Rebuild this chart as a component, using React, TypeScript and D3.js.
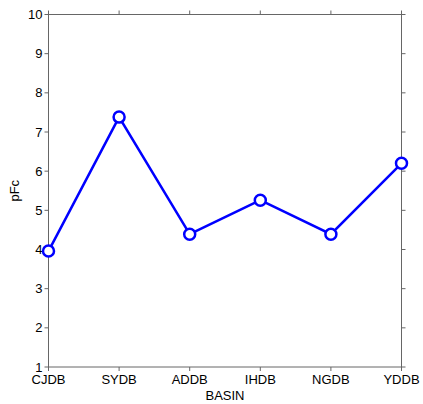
import React from "react";
import * as d3 from "d3";

const categories = ["CJDB", "SYDB", "ADDB", "IHDB", "NGDB", "YDDB"];
const values = [3.96, 7.38, 4.39, 5.26, 4.39, 6.2];
const yTicks = [1, 2, 3, 4, 5, 6, 7, 8, 9, 10];

const W = 423, H = 404;
const m = { left: 48.5, right: 21.5, top: 14.5, bottom: 37 };

export default function App() {
  const x = d3.scalePoint<string>().domain(categories).range([m.left, W - m.right]);
  const y = d3.scaleLinear().domain([1, 10]).range([H - m.bottom, m.top]);
  const line = d3.line<number>().x((_, i) => x(categories[i])!).y((d) => y(d));
  const axisColor = "#666";
  const font = "Liberation Sans, Arial, sans-serif";
  const x0 = m.left, x1 = W - m.right, y0 = H - m.bottom, y1 = m.top;
  return (
    <svg width={W} height={H} style={{ position: "absolute", left: 0, top: 0 }} fontFamily={font}>
      <rect width={W} height={H} fill="#fff" />
      <rect x={x0} y={y1} width={x1 - x0} height={y0 - y1} fill="none" stroke={axisColor} strokeWidth={1} />
      {yTicks.map((t) => (
        <g key={t}>
          <line x1={x0} x2={x0 - 4} y1={y(t)} y2={y(t)} stroke={axisColor} />
          <line x1={x1} x2={x1 + 4} y1={y(t)} y2={y(t)} stroke={axisColor} />
          <text x={x0 - 6} y={y(t)} dy="0.35em" textAnchor="end" fontSize={13} fill="#000">{t}</text>
        </g>
      ))}
      {categories.map((c) => (
        <g key={c}>
          <line x1={x(c)} x2={x(c)} y1={y0} y2={y0 + 4} stroke={axisColor} />
          <line x1={x(c)} x2={x(c)} y1={y1} y2={y1 - 4} stroke={axisColor} />
          <text x={x(c)} y={y0 + 17} textAnchor="middle" fontSize={13} fill="#000">{c}</text>
        </g>
      ))}
      <text x={(x0 + x1) / 2} y={H - 4} textAnchor="middle" fontSize={13} fill="#000">BASIN</text>
      <text transform={`translate(19,${(y0 + y1) / 2}) rotate(-90)`} textAnchor="middle" fontSize={13} fill="#000">pFc</text>
      <path d={line(values)!} fill="none" stroke="#0000ff" strokeWidth={2.5} />
      {values.map((v, i) => (
        <circle key={i} cx={x(categories[i])} cy={y(v)} r={5.5} fill="#fff" stroke="#0000ff" strokeWidth={2.5} />
      ))}
    </svg>
  );
}
